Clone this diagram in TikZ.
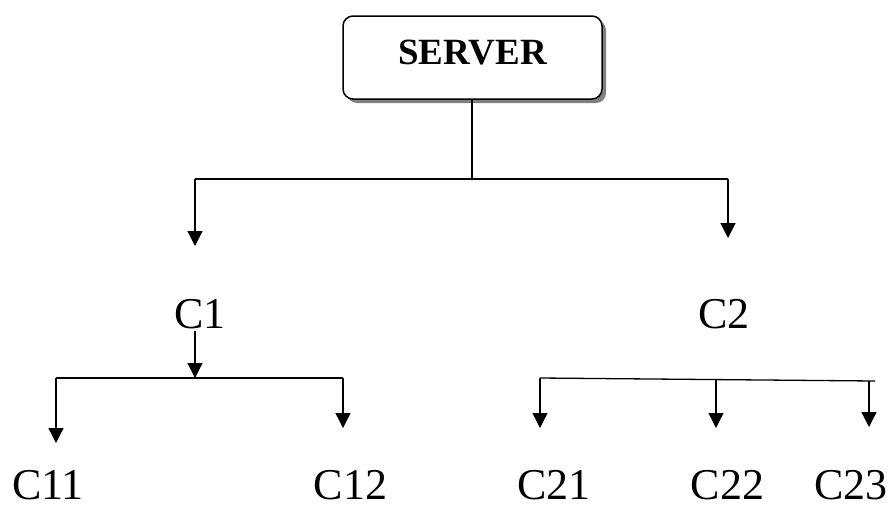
\documentclass[tikz,border=0pt]{standalone}
\usepackage{fontspec}
\setmainfont{Liberation Serif}
\usetikzlibrary{arrows.meta,shadows}
\begin{document}
\begin{tikzpicture}[x=1pt,y=-1pt,
  conn/.style={line width=1.3pt},
  arr/.style={line width=1.3pt,-{Triangle[width=15pt,length=15pt]}},
  lbl/.style={anchor=base,inner sep=0pt,font=\fontsize{44}{50}\selectfont},
  srvbox/.style={draw,line width=1.5pt,rounded corners=10pt,fill=white,
    minimum width=259pt,minimum height=83pt,inner sep=0pt,
    text height=25pt,text depth=12pt,
    font=\fontsize{37}{42}\selectfont\bfseries,
    drop shadow={shadow xshift=4pt,shadow yshift=-4pt,fill=gray,opacity=1}}]
\useasboundingbox (0,0) rectangle (891,504);
% server
\node[srvbox] (server) at (472.5,57.5) {SERVER};
% labels
\node[lbl] (c1) at (200,328) {C1};
\node[lbl] (c2) at (724,328) {C2};
\node[lbl] (c11) at (48,499) {C11};
\node[lbl] (c12) at (350.5,499) {C12};
\node[lbl] (c21) at (554,499) {C21};
\node[lbl] (c22) at (727.5,499) {C22};
\node[lbl] (c23) at (851,499) {C23};
% junction coordinates
\coordinate (sj) at (472,179);
\coordinate (sl) at (195,179);
\coordinate (sr) at (728,179);
\coordinate (sle) at (195,246);
\coordinate (sre) at (728,238);
\coordinate (c1s) at (195,331);
\coordinate (c1j) at (195,378);
\coordinate (c1l) at (56,378);
\coordinate (c1r) at (343,378);
\coordinate (c11e) at (56,443);
\coordinate (c12e) at (343,428);
\coordinate (c2l) at (540,378);
\coordinate (c2m) at (716,380);
\coordinate (c2r) at (869,381);
\coordinate (c2re) at (875,381);
\coordinate (c21e) at (540,428);
\coordinate (c22e) at (716,428);
\coordinate (c23e) at (869,427);
% server connectors
\draw[conn] (server.south -| sj) -- (sj);
\draw[conn] (sl) -- (sr);
\draw[arr] (sl) -- (sle);
\draw[arr] (sr) -- (sre);
% C1 group
\draw[arr] (c1s) -- (c1j);
\draw[conn] (c1l) -- (c1r);
\draw[arr] (c1l) -- (c11e);
\draw[arr] (c1r) -- (c12e);
% C2 group
\draw[conn] (c2l) -- (c2re);
\draw[arr] (c2l) -- (c21e);
\draw[arr] (c2m) -- (c22e);
\draw[arr] (c2r) -- (c23e);
\end{tikzpicture}
\end{document}
